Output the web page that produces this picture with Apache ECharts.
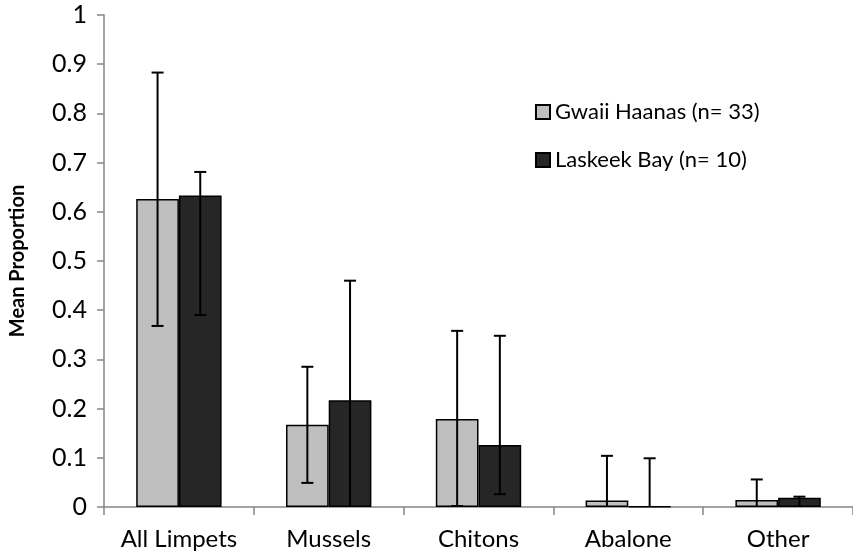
<!DOCTYPE html>
<html>
<head>
<meta charset="utf-8">
<script src="https://cdn.jsdelivr.net/npm/echarts@6/dist/echarts.min.js"></script>
<style>html,body{margin:0;padding:0;background:#fff}#c{width:853px;height:557px}</style>
</head>
<body>
<div id="c"></div>
<script>
var categories = ['All Limpets', 'Mussels', 'Chitons', 'Abalone', 'Other'];
var seriesNames = ['Gwaii Haanas (n= 33)', 'Laskeek Bay (n= 10)'];
var gwaii = [0.626, 0.167, 0.179, 0.013, 0.014];
var laskeek = [0.633, 0.217, 0.126, 0.0015, 0.019];
var gwaiiHigh = [0.883, 0.285, 0.358, 0.104, 0.056];
var gwaiiLow = [0.368, 0.049, 0.002, 0, 0];
var laskeekHigh = [0.681, 0.460, 0.348, 0.099, 0.021];
var laskeekLow = [0.390, 0, 0.026, 0, 0];
var yTicks = [0, 0.1, 0.2, 0.3, 0.4, 0.5, 0.6, 0.7, 0.8, 0.9, 1];

var FONT = 'Lato';
var GAP = 0.43;

function errData(high, low) {
  return categories.map(function (c, i) { return [i, high[i], low[i]]; });
}
function errSeries(high, low, side) {
  return {
    type: 'custom',
    z: 10,
    silent: true,
    data: errData(high, low),
    renderItem: function (params, api) {
      var i = api.value(0);
      var catW = api.size([1, 0])[0];
      var barW = catW * (1 - GAP) / 2;
      var x = api.coord([i, 0])[0] + side * barW / 2;
      var yH = api.coord([i, api.value(1)])[1];
      var lowV = api.value(2);
      var yL = api.coord([i, Math.max(lowV, 0)])[1];
      var cap = 6;
      var st = { stroke: '#000', lineWidth: 2 };
      var children = [
        { type: 'line', shape: { x1: x, y1: yH, x2: x, y2: yL }, style: st },
        { type: 'line', shape: { x1: x - cap, y1: yH, x2: x + cap, y2: yH }, style: st }
      ];
      if (lowV > 0) {
        children.push({ type: 'line', shape: { x1: x - cap, y1: yL, x2: x + cap, y2: yL }, style: st });
      }
      return { type: 'group', children: children };
    }
  };
}

var chart = echarts.init(document.getElementById('c'), null, { renderer: 'canvas' });
chart.setOption({
  animation: false,
  backgroundColor: '#fff',
  textStyle: { fontFamily: FONT },
  grid: { left: 103, top: 15, width: 760, bottom: 50, containLabel: false },
  legend: {
    orient: 'vertical',
    left: 530,
    top: 95,
    itemWidth: 14,
    itemHeight: 14,
    itemGap: 24,
    icon: 'rect',
    textStyle: { fontFamily: FONT, fontSize: 22, color: '#000', lineHeight: 24 },
    data: seriesNames
  },
  xAxis: {
    type: 'category',
    data: categories,
    axisLine: { lineStyle: { color: '#868686', width: 1.5 } },
    axisTick: { show: true, interval: 0, length: 8, lineStyle: { color: '#868686', width: 1.5 } },
    axisLabel: { interval: 0, hideOverlap: false, fontFamily: FONT, fontSize: 24, color: '#000', margin: 20 }
  },
  yAxis: {
    type: 'value',
    min: 0,
    max: 1,
    interval: 0.1,
    name: 'Mean Proportion',
    nameLocation: 'middle',
    nameGap: 76,
    nameTextStyle: { fontFamily: FONT, fontSize: 20, fontWeight: 'bold', color: '#000' },
    axisLine: { show: true, lineStyle: { color: '#868686', width: 1.5 } },
    axisTick: { show: true, length: 7, lineStyle: { color: '#868686', width: 1.5 } },
    splitLine: { show: false },
    axisLabel: {
      fontFamily: FONT, fontSize: 25, color: '#000', margin: 17,
      formatter: function (v) {
        var best = yTicks.reduce(function (a, b) { return Math.abs(b - v) < Math.abs(a - v) ? b : a; });
        return String(best);
      }
    }
  },
  series: [
    {
      name: seriesNames[0], type: 'bar', data: gwaii,
      barGap: '0%', barCategoryGap: (GAP * 100) + '%',
      itemStyle: { color: '#bfbfbf', borderColor: '#000', borderWidth: 1.5 }
    },
    {
      name: seriesNames[1], type: 'bar', data: laskeek,
      itemStyle: { color: '#262626', borderColor: '#000', borderWidth: 1.5 }
    },
    errSeries(gwaiiHigh, gwaiiLow, -1),
    errSeries(laskeekHigh, laskeekLow, 1)
  ]
});
</script>
</body>
</html>
